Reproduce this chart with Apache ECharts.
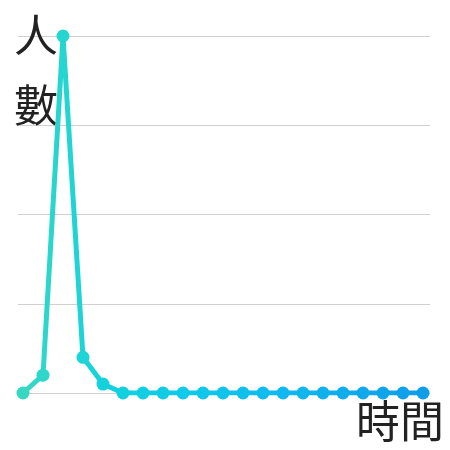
<!DOCTYPE html>
<html>
<head>
<meta charset="utf-8">
<script src="https://cdn.jsdelivr.net/npm/echarts@6/dist/echarts.min.js"></script>
<style>
html, body { margin: 0; padding: 0; background: #fff; }
#main { width: 450px; height: 450px; }
</style>
</head>
<body>
<div id="main"></div>
<script>
//時間序號
var timeIndex = [0, 1, 2, 3, 4, 5, 6, 7, 8, 9, 10, 11, 12, 13, 14, 15, 16, 17, 18, 19, 20];
//人數
var peopleCount = [0, 2, 40, 4, 1, 0, 0, 0, 0, 0, 0, 0, 0, 0, 0, 0, 0, 0, 0, 0, 0];
//y軸刻度
var yTicks = [0, 10, 20, 30, 40];

var chart = echarts.init(document.getElementById('main'));

var seriesData = [];
for (var i = 0; i < timeIndex.length; i++) {
    seriesData.push([timeIndex[i], peopleCount[i]]);
}

var fontName = '"Noto Sans CJK TC", "Noto Sans CJK SC", sans-serif';

var option = {
    animation: false,
    grid: { left: 18, right: 20, top: 36, bottom: 57 },
    visualMap: {
        show: false,
        type: 'continuous',
        dimension: 0,
        min: 0,
        max: 20,
        inRange: { color: ['#36d8c4', '#14d2dc', '#0fcae8', '#0fbcee', '#0fadec', '#0e9de8'] }
    },
    xAxis: {
        type: 'value',
        min: -0.25,
        max: 20.35,
        name: '時間',
        nameLocation: 'end',
        nameGap: 14,
        nameTextStyle: {
            fontFamily: fontName, fontSize: 44, color: '#222',
            align: 'right', verticalAlign: 'top', padding: [6, 0, 0, 0]
        },
        axisLine: { show: false },
        axisTick: { show: false },
        axisLabel: { show: false },
        splitLine: { show: false }
    },
    yAxis: {
        type: 'value',
        min: yTicks[0],
        max: yTicks[yTicks.length - 1],
        interval: yTicks[1] - yTicks[0],
        name: '人\n數',
        nameLocation: 'end',
        nameGap: 36,
        nameTextStyle: {
            fontFamily: fontName, fontSize: 44, color: '#222', lineHeight: 70,
            align: 'left', verticalAlign: 'top', padding: [0, 0, 0, -9]
        },
        axisLine: { show: false },
        axisTick: { show: false },
        axisLabel: { show: false },
        splitLine: { lineStyle: { color: '#d0d0d0', width: 1 } }
    },
    series: [{
        type: 'line',
        data: seriesData,
        symbol: 'circle',
        symbolSize: 13,
        lineStyle: { width: 5 }
    }]
};

chart.setOption(option);
</script>
</body>
</html>
